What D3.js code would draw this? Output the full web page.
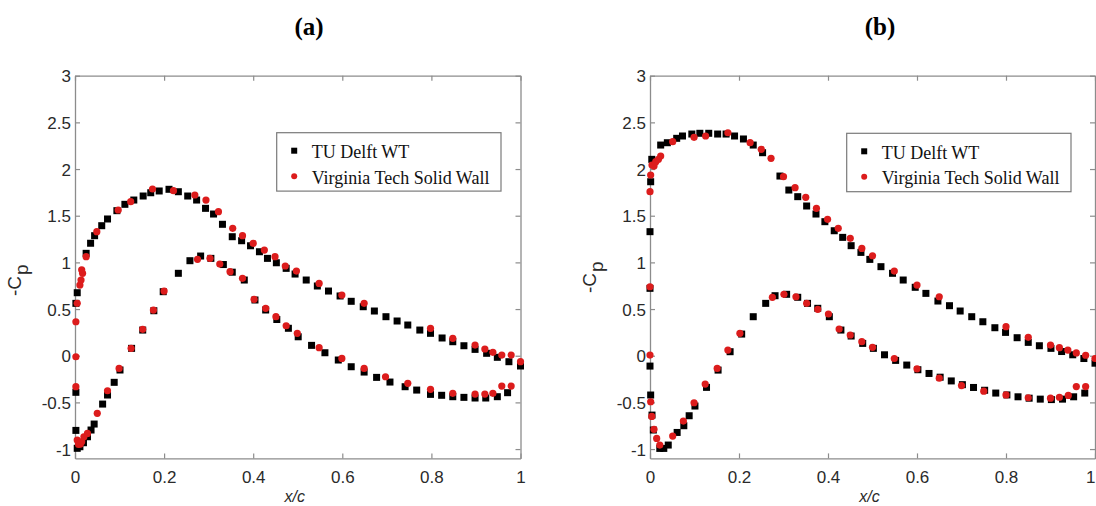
<!DOCTYPE html>
<html>
<head>
<meta charset="utf-8">
<script src="https://cdn.jsdelivr.net/npm/d3@7"></script>
<style>
  html, body { margin: 0; padding: 0; background: #fff; }
  svg { display: block; }
</style>
</head>
<body>
<svg id="chart" width="1096" height="506"></svg>
<script>
// ---------------- DATA ----------------
const panelTitles = ["(a)", "(b)"];
const seriesNames = ["TU Delft WT", "Virginia Tech Solid Wall"];
const xTicks = [0, 0.2, 0.4, 0.6, 0.8, 1];
const xTickLabels = ["0", "0.2", "0.4", "0.6", "0.8", "1"];
const yTicks = [-1, -0.5, 0, 0.5, 1, 1.5, 2, 2.5, 3];
const yTickLabels = ["-1", "-0.5", "0", "0.5", "1", "1.5", "2", "2.5", "3"];
const xLabel = "x/c";

// Panel (a) TU Delft WT
const tudA_x = [0.002,0.005,0.025,0.035,0.044,0.060,0.073,0.094,0.112,0.132,0.153,0.170,0.189,0.211,0.232,0.253,0.273,0.293,0.311,0.331,0.353,0.374,0.394,0.414,0.432,0.452,0.474,0.494,0.519,0.544,0.569,0.595,0.620,0.647,0.672,0.698,0.723,0.747,0.774,0.798,0.824,0.848,0.873,0.898,0.924,0.948,0.974,1.000,
  0.002,0.002,0.005,0.011,0.019,0.028,0.036,0.043,0.062,0.073,0.088,0.101,0.127,0.152,0.177,0.198,0.232,0.258,0.282,0.305,0.333,0.353,0.380,0.404,0.428,0.453,0.479,0.501,0.531,0.561,0.591,0.620,0.649,0.677,0.707,0.741,0.767,0.798,0.823,0.848,0.873,0.898,0.922,0.948,0.971];
const tudA_cp = [0.561,0.675,1.097,1.205,1.286,1.393,1.465,1.554,1.622,1.668,1.711,1.746,1.765,1.783,1.757,1.711,1.668,1.579,1.518,1.408,1.275,1.232,1.178,1.114,1.043,0.996,0.936,0.875,0.811,0.747,0.693,0.640,0.583,0.525,0.479,0.418,0.372,0.329,0.275,0.240,0.190,0.150,0.107,0.068,0.026,-0.017,-0.064,-0.110,
  -0.392,-0.800,-0.992,-0.975,-0.932,-0.868,-0.796,-0.732,-0.518,-0.421,-0.285,-0.153,0.079,0.275,0.482,0.686,0.883,1.018,1.068,1.043,0.977,0.895,0.811,0.597,0.490,0.388,0.294,0.203,0.111,0.032,-0.046,-0.118,-0.175,-0.232,-0.282,-0.332,-0.368,-0.414,-0.424,-0.439,-0.446,-0.453,-0.453,-0.439,-0.396];

// Panel (a) Virginia Tech Solid Wall
const vtA_x = [0.005,0.011,0.0135,0.015,0.017,0.025,0.049,0.097,0.125,0.174,0.221,0.269,0.294,0.322,0.354,0.376,0.400,0.425,0.449,0.472,0.497,0.548,0.599,0.649,0.798,0.848,0.898,0.920,0.938,0.958,0.979,1.000,
  0.002,0.002,0.002,0.005,0.008,0.0097,0.012,0.015,0.020,0.028,0.050,0.073,0.099,0.126,0.152,0.176,0.200,0.275,0.303,0.325,0.348,0.376,0.402,0.428,0.451,0.474,0.499,0.548,0.599,0.649,0.697,0.747,0.798,0.848,0.898,0.920,0.938,0.958,0.979];
const vtA_cp = [0.561,0.757,0.811,0.920,0.883,1.061,1.329,1.561,1.650,1.786,1.768,1.722,1.668,1.543,1.365,1.286,1.204,1.132,1.061,0.961,0.907,0.775,0.650,0.561,0.293,0.186,0.114,0.072,0.036,0.007,0.007,-0.064,
  0.364,-0.011,-0.332,-0.904,-0.950,-0.939,-0.945,-0.922,-0.868,-0.832,-0.617,-0.375,-0.136,0.079,0.283,0.489,0.693,1.033,1.043,0.982,0.900,0.829,0.604,0.508,0.418,0.321,0.240,0.086,-0.029,-0.136,-0.225,-0.296,-0.360,-0.403,-0.411,-0.411,-0.403,-0.325,-0.325];

// Panel (b) TU Delft WT
const tudB_x = [0.000,0.0015,0.004,0.024,0.039,0.060,0.073,0.094,0.112,0.132,0.152,0.171,0.190,0.210,0.232,0.253,0.292,0.312,0.332,0.352,0.373,0.393,0.414,0.433,0.452,0.474,0.494,0.519,0.545,0.569,0.596,0.620,0.647,0.673,0.697,0.723,0.748,0.775,0.799,0.825,0.850,0.875,0.901,0.925,0.950,0.975,1.000,
  0.000,0.000,0.0015,0.0045,0.0075,0.022,0.031,0.041,0.061,0.076,0.088,0.101,0.127,0.153,0.180,0.206,0.232,0.260,0.281,0.307,0.332,0.354,0.377,0.403,0.429,0.452,0.478,0.502,0.527,0.552,0.577,0.602,0.627,0.652,0.677,0.702,0.727,0.752,0.777,0.802,0.827,0.852,0.877,0.902,0.927,0.952,0.977];
const tudB_cp = [1.329,1.864,2.104,2.257,2.282,2.329,2.354,2.375,2.383,2.383,2.375,2.375,2.354,2.322,2.257,2.175,1.925,1.775,1.704,1.604,1.518,1.436,1.339,1.268,1.179,1.107,1.032,0.954,0.883,0.811,0.733,0.668,0.586,0.536,0.479,0.418,0.364,0.300,0.250,0.193,0.143,0.107,0.079,0.045,0.010,-0.030,-0.080,
  0.722,-0.111,-0.421,-0.636,-0.796,-0.993,-0.993,-0.957,-0.822,-0.750,-0.643,-0.539,-0.339,-0.154,0.043,0.232,0.418,0.561,0.643,0.658,0.626,0.561,0.508,0.418,0.275,0.211,0.132,0.079,0.010,-0.050,-0.100,-0.150,-0.190,-0.230,-0.270,-0.310,-0.340,-0.370,-0.400,-0.420,-0.440,-0.455,-0.465,-0.470,-0.465,-0.440,-0.400];

// Panel (b) Virginia Tech Solid Wall
const vtB_x = [0.000,0.0015,0.0045,0.009,0.013,0.019,0.024,0.051,0.099,0.125,0.175,0.225,0.250,0.272,0.300,0.326,0.350,0.374,0.399,0.423,0.450,0.476,0.500,0.549,0.600,0.650,0.800,0.850,0.900,0.920,0.939,0.958,0.979,1.000,
  0.000,0.000,0.0015,0.004,0.009,0.015,0.022,0.051,0.075,0.099,0.124,0.151,0.175,0.202,0.275,0.301,0.328,0.352,0.377,0.401,0.425,0.450,0.476,0.500,0.549,0.600,0.650,0.700,0.750,0.800,0.850,0.900,0.920,0.940,0.958,0.979];
const vtB_cp = [1.757,1.936,2.043,2.032,2.079,2.104,2.139,2.293,2.340,2.354,2.389,2.282,2.211,2.115,1.918,1.800,1.697,1.579,1.461,1.365,1.258,1.150,1.071,0.907,0.757,0.632,0.311,0.197,0.114,0.086,0.061,0.030,0.005,-0.030,
  0.739,0.007,-0.493,-0.650,-0.789,-0.886,-0.957,-0.861,-0.700,-0.504,-0.304,-0.136,0.061,0.240,0.626,0.658,0.632,0.561,0.497,0.447,0.286,0.222,0.150,0.090,-0.030,-0.140,-0.240,-0.320,-0.380,-0.420,-0.450,-0.455,-0.445,-0.425,-0.330,-0.330];

// ---------------- DRAW ----------------
const svg = d3.select("#chart");
const AXIS_COLOR = "#8c8c8c";
const TEXT_COLOR = "#2a2a2a";
const RED = "#dc1c1c";
const SANS = "'Liberation Sans', Arial, Helvetica, sans-serif";
const SERIF = "'Liberation Serif', 'Times New Roman', serif";

const panels = [
  { title: panelTitles[0], x0: 75, x1: 520.5, titleX: 309, legX: 276.7, legY: 132.7, labY: 296,
    tud: d3.zip(tudA_x, tudA_cp), vt: d3.zip(vtA_x, vtA_cp) },
  { title: panelTitles[1], x0: 650, x1: 1095, titleX: 880, legX: 846.7, legY: 133.3, labY: 293,
    tud: d3.zip(tudB_x, tudB_cp), vt: d3.zip(vtB_x, vtB_cp) }
];
const yTop = 75.7, yBot = 458.4;

panels.forEach((p, pi) => {
  const x = d3.scaleLinear().domain([0, 1]).range([p.x0, p.x1]);
  const y = d3.scaleLinear().domain([-1.1, 3]).range([yBot, yTop]);
  const g = svg.append("g");

  // title
  g.append("text").attr("x", p.titleX).attr("y", 35)
    .attr("text-anchor", "middle")
    .style("font-family", SERIF).style("font-weight", "bold").style("font-size", "25px")
    .attr("fill", "#000").text(p.title);

  // axes
  const fmtX = (d) => xTickLabels[xTicks.indexOf(d)];
  const fmtY = (d) => yTickLabels[yTicks.indexOf(d)];
  const axB = d3.axisBottom(x).tickValues(xTicks).tickFormat(fmtX).tickSizeInner(-5).tickSizeOuter(0).tickPadding(12.5);
  const axT = d3.axisTop(x).tickValues(xTicks).tickFormat("").tickSizeInner(-5).tickSizeOuter(0);
  const axL = d3.axisLeft(y).tickValues(yTicks).tickFormat(fmtY).tickSizeInner(-5).tickSizeOuter(0).tickPadding(4);
  const axR = d3.axisRight(y).tickValues(yTicks).tickFormat("").tickSizeInner(-5).tickSizeOuter(0);

  const gb = g.append("g").attr("transform", `translate(0,${yBot})`).call(axB);
  const gt = g.append("g").attr("transform", `translate(0,${yTop})`).call(axT);
  const gl = g.append("g").attr("transform", `translate(${p.x0},0)`).call(axL);
  const gr = g.append("g").attr("transform", `translate(${p.x1},0)`).call(axR);
  [gb, gt, gl, gr].forEach(a => {
    a.select(".domain").attr("stroke", AXIS_COLOR).attr("stroke-width", 1.3);
    a.selectAll(".tick line").attr("stroke", AXIS_COLOR).attr("stroke-width", 1.2);
    a.selectAll(".tick text").attr("fill", TEXT_COLOR)
      .style("font-family", SANS).style("font-size", "17px");
  });
  gl.selectAll(".tick text").attr("dy", "0.36em");
  // the last x label of the right-hand panel sits at the page edge: keep it inside
  if (pi === 1) {
    gb.selectAll(".tick text").filter(d => d === 1).attr("text-anchor", "end").attr("x", 0);
  }

  // x label
  g.append("text").attr("x", (p.x0 + p.x1) / 2 - 3).attr("y", 502)
    .attr("text-anchor", "middle").attr("fill", TEXT_COLOR)
    .style("font-family", SANS).style("font-style", "italic").style("font-size", "16px")
    .text(xLabel);

  // y label  -C_p
  const yl = g.append("text")
    .attr("transform", `translate(${p.x0 - 54},${p.labY}) rotate(-90)`)
    .attr("text-anchor", "start").attr("fill", TEXT_COLOR)
    .style("font-family", SANS).style("font-size", "19px");
  yl.append("tspan").text("-C");
  yl.append("tspan").attr("dy", 7).attr("dx", 1).text("p");

  // data: TU Delft squares then VT circles
  const S = 7;
  g.append("g").selectAll("rect").data(p.tud).join("rect")
    .attr("x", d => x(d[0]) - S / 2).attr("y", d => y(d[1]) - S / 2)
    .attr("width", S).attr("height", S).attr("fill", "#000");
  g.append("g").selectAll("circle").data(p.vt).join("circle")
    .attr("cx", d => x(d[0])).attr("cy", d => y(d[1])).attr("r", 3.6)
    .attr("fill", RED);

  // legend
  const lg = g.append("g").attr("transform", `translate(${p.legX},${p.legY})`);
  lg.append("rect").attr("x", 0).attr("y", 0).attr("width", 224.3).attr("height", 58.4)
    .attr("fill", "#fff").attr("stroke", "#7a7a7a").attr("stroke-width", 1.2);
  lg.append("rect").attr("x", 17.5 - 3).attr("y", 18 - 3).attr("width", 6).attr("height", 6).attr("fill", "#000");
  lg.append("circle").attr("cx", 17.5).attr("cy", 43.5).attr("r", 3).attr("fill", RED);
  seriesNames.forEach((nm, i) => {
    lg.append("text").attr("x", 35).attr("y", 25.5 + i * 25.5)
      .attr("fill", "#111")
      .style("font-family", SERIF).style("font-size", "18px")
      .text(nm);
  });
});
</script>
</body>
</html>
